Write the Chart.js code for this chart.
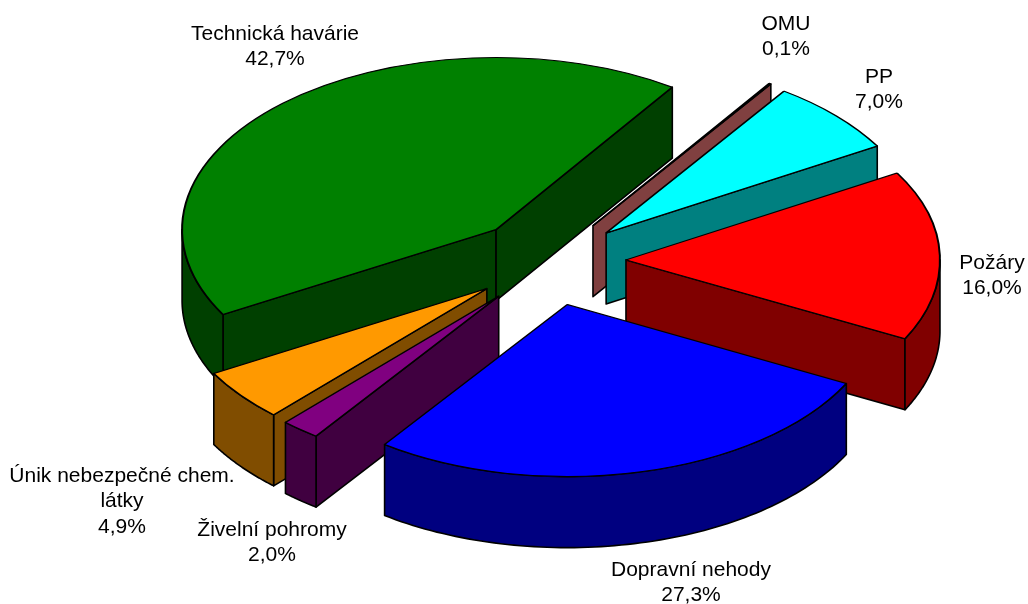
<!DOCTYPE html>
<html><head><meta charset="utf-8">
<style>html,body{margin:0;padding:0;background:#fff}canvas{display:block}</style>
<script src="https://cdn.jsdelivr.net/npm/chart.js@4/dist/chart.umd.min.js"></script>
</head><body><canvas id="c" width="1028" height="604"></canvas>
<script>
const categories = ['PP','Požáry','Dopravní nehody','Živelní pohromy','Únik nebezpečné chem.|látky','Technická havárie','OMU'];
const values = [7.0,16.0,27.3,2.0,4.9,42.7,0.1];
const topColors = ['#00FFFF','#FF0000','#0000FF','#800080','#FF9900','#008000','#FF8080'];
const wallColors = ['#008080','#800000','#000080','#400040','#804D00','#004000','#804040'];
const labelAnchors = [[879,77],[992,263],[691,570],[272,530],[122,476],[275,34],[786,24]];
const nudges = [[1,1],[0,0],[1,2],[0,2],[0,1],[1,0],[1,0]];
const SQUASH = 0.548, DEPTH = 71, EXPLODE = 78;

function geom(el,i){
  const p = el.getProps(['x','y','startAngle','endAngle','outerRadius']);
  const mid = (p.startAngle+p.endAngle)/2;
  return {...p, mid, ax:p.x+Math.cos(mid)*EXPLODE+nudges[i][0], ay:p.y+Math.sin(mid)*EXPLODE*SQUASH+nudges[i][1]};
}
function drawWall(ctx, el, i){
  const p = geom(el,i), ax = p.ax, ay = p.ay;
  const rim = a => [ax+Math.cos(a)*p.outerRadius, ay+Math.sin(a)*p.outerRadius*SQUASH];
  ctx.save();
  ctx.fillStyle = wallColors[i]; ctx.strokeStyle = '#000'; ctx.lineWidth = 1.6; ctx.lineJoin = 'round';
  const radial = a => {
    const q = rim(a);
    ctx.beginPath(); ctx.moveTo(ax,ay); ctx.lineTo(q[0],q[1]); ctx.lineTo(q[0],q[1]+DEPTH); ctx.lineTo(ax,ay+DEPTH); ctx.closePath();
    ctx.fill(); ctx.stroke();
  };
  if (-Math.cos(p.startAngle) > 0) radial(p.startAngle);
  if (Math.cos(p.endAngle) > 0) radial(p.endAngle);
  for (const k of [-2,0,2]) {
    const s = Math.max(p.startAngle, k*Math.PI), e = Math.min(p.endAngle, (k+1)*Math.PI);
    if (e <= s) continue;
    ctx.beginPath();
    const n = 80, pts = [];
    for (let j=0;j<=n;j++) pts.push(rim(s+(e-s)*j/n));
    pts.forEach((q,j)=> j ? ctx.lineTo(q[0],q[1]) : ctx.moveTo(q[0],q[1]));
    pts.slice().reverse().forEach(q=>ctx.lineTo(q[0],q[1]+DEPTH));
    ctx.closePath(); ctx.fill(); ctx.stroke();
  }
  ctx.restore();
}

const pie3d = {
  id:'pie3d',
  beforeDatasetDraw(chart,args){
    const ctx = chart.ctx, arcs = args.meta.data;
    const order = arcs.map((_,i)=>i).sort((a,b)=>Math.sin(geom(arcs[a],a).mid)-Math.sin(geom(arcs[b],b).mid));
    for (const i of order) {
      const el = arcs[i], p = geom(el,i);
      drawWall(ctx, el, i);
      ctx.save();
      ctx.translate(p.ax, p.ay); ctx.scale(1,SQUASH); ctx.translate(-p.x,-p.y);
      el.draw(ctx);
      ctx.restore();
    }
    return false;
  },
  afterDraw(chart){
    const ctx = chart.ctx;
    ctx.save();
    ctx.fillStyle = '#000'; ctx.font = '21px "Liberation Sans", Arial, sans-serif';
    ctx.textAlign = 'center'; ctx.textBaseline = 'middle';
    categories.forEach((c,i)=>{
      const lines = c.split('|').concat(values[i].toFixed(1).replace('.',',')+'%');
      lines.forEach((t,j)=>ctx.fillText(t, labelAnchors[i][0], labelAnchors[i][1]+j*25.5));
    });
    ctx.restore();
  }
};

new Chart(document.getElementById('c'),{
  type:'pie',
  data:{labels:categories.map(c=>c.replace('|',' ')),datasets:[{data:values,backgroundColor:topColors,borderColor:'#000',borderWidth:2,offset:0}]},
  options:{
    responsive:false,animation:false,rotation:34.5,radius:314,
    layout:{padding:{left:68,right:0,top:0,bottom:82}},
    plugins:{legend:{display:false},tooltip:{enabled:false}}
  },
  plugins:[pie3d]
});
</script></body></html>
